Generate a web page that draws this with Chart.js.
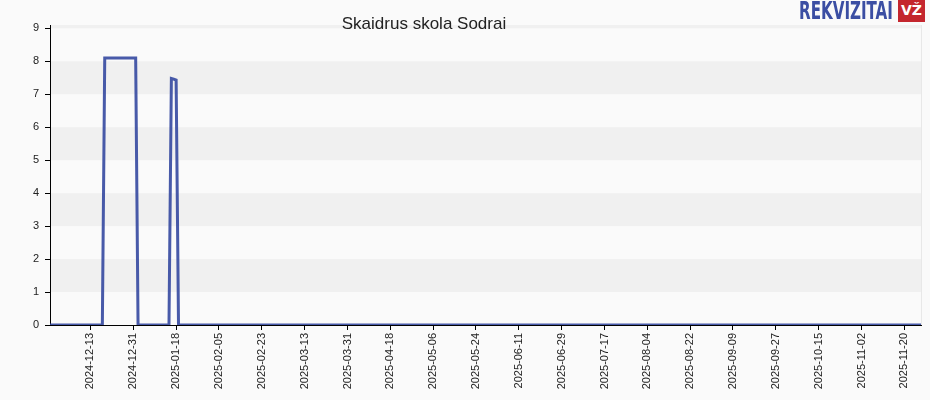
<!DOCTYPE html>
<html>
<head>
<meta charset="utf-8">
<script src="https://cdn.jsdelivr.net/npm/chart.js@4/dist/chart.umd.min.js"></script>
<style>
  html, body { margin: 0; padding: 0; background: #fafafa; }
  #wrap { position: relative; width: 930px; height: 400px; background: #fafafa; }
  #c { position: absolute; left: 0; top: 0; }
  #title { position: absolute; left: 324px; width: 200px; top: 14px; text-align: center;
           font-family: "Liberation Sans", Arial, sans-serif; font-size: 17px; color: #222; white-space: nowrap; }
  #logo { position: absolute; left: 799px; top: -3px; height: 26px; white-space: nowrap; }
  #logo .t { display: inline-block; font-family: "DejaVu Sans Condensed", "DejaVu Sans", sans-serif; font-weight: bold;
             font-size: 24px; color: #3b4ea3; transform: scaleX(0.7); transform-origin: left top; letter-spacing: 0px; }
  #logo .b { position: absolute; left: 99px; top: 3px; width: 27px; height: 22px; background: #c4262e; color: #fff;
             font-family: "DejaVu Sans", sans-serif; font-weight: bold; font-size: 14px; text-align: center; line-height: 21px; }
</style>
</head>
<body>
<div id="wrap">
  <canvas id="c" width="930" height="400"></canvas>
  <div id="title">Skaidrus skola Sodrai</div>
  <div id="logo"><span class="t">REKVIZITAI</span><span class="b">VŽ</span></div>
</div>
<script>
// ---- data ----
const startDate = '2024-11-26';
const endDate = '2025-11-27';
const pointDates = ['2024-11-26','2024-12-18','2024-12-19','2025-01-01','2025-01-02','2025-01-15','2025-01-16','2025-01-17','2025-01-18','2025-01-19','2025-11-27'];
const pointValues = [0, 0, 8.1, 8.1, 0, 0, 7.48, 7.46, 7.43, 0, 0];
const xTickLabels = ['2024-12-13','2024-12-31','2025-01-18','2025-02-05','2025-02-23','2025-03-13','2025-03-31','2025-04-18','2025-05-06','2025-05-24','2025-06-11','2025-06-29','2025-07-17','2025-08-04','2025-08-22','2025-09-09','2025-09-27','2025-10-15','2025-11-02','2025-11-20'];
const yTickValues = [0,1,2,3,4,5,6,7,8,9];
const yMax = 9.1;

const DAY = 86400000;
const t0 = Date.parse(startDate + 'T00:00:00Z');
const dayIdx = d => Math.round((Date.parse(d + 'T00:00:00Z') - t0) / DAY);
const dataPts = pointDates.map((d, i) => ({ x: dayIdx(d), y: pointValues[i] }));
const xTickDays = xTickLabels.map(dayIdx);
const labelByDay = {};
xTickLabels.forEach((l, i) => { labelByDay[xTickDays[i]] = l; });

const bands = {
  id: 'bands',
  beforeDraw(chart) {
    const { ctx, chartArea: a, scales: { y } } = chart;
    ctx.save();
    ctx.fillStyle = '#fafafa';
    ctx.fillRect(a.left, a.top, a.right - a.left, a.bottom - a.top);
    ctx.fillStyle = '#f0f0f0';
    for (let v = 1; v < yMax; v += 2) {
      const top = y.getPixelForValue(Math.min(v + 1, yMax));
      const bot = y.getPixelForValue(v);
      ctx.fillRect(a.left, top, a.right - a.left, bot - top);
    }
    ctx.strokeStyle = '#e8e8e8';
    ctx.lineWidth = 1;
    ctx.beginPath();
    ctx.moveTo(a.right + 0.5, a.top);
    ctx.lineTo(a.right + 0.5, a.bottom);
    ctx.stroke();
    ctx.restore();
  }
};

const font = { family: '"Liberation Sans", Arial, sans-serif', size: 11 };

new Chart(document.getElementById('c'), {
  type: 'line',
  data: {
    datasets: [{
      data: dataPts,
      borderColor: 'rgba(52,72,160,0.9)',
      borderWidth: 3,
      pointRadius: 0,
      tension: 0,
      fill: false
    }]
  },
  options: {
    responsive: false,
    animation: false,
    layout: { padding: { left: 0, right: 9, top: 25, bottom: 0 } },
    plugins: { legend: { display: false }, tooltip: { enabled: false }, title: { display: false } },
    scales: {
      x: {
        type: 'linear',
        min: 0,
        max: dayIdx(endDate),
        afterBuildTicks: s => { s.ticks = xTickDays.map(v => ({ value: v })); },
        afterFit: s => { s.height = 75; },
        ticks: {
          autoSkip: false,
          maxRotation: 90,
          minRotation: 90,
          padding: 3,
          color: '#222',
          font,
          callback: v => labelByDay[v] || ''
        },
        grid: { drawOnChartArea: false, tickLength: 5, color: '#000' },
        border: { color: '#000', width: 1 }
      },
      y: {
        min: 0,
        max: yMax,
        afterBuildTicks: s => { s.ticks = yTickValues.map(v => ({ value: v })); },
        afterFit: s => { s.width = 50; },
        ticks: { color: '#222', font, padding: 6 },
        grid: { drawOnChartArea: false, tickLength: 5, color: '#000' },
        border: { color: '#000', width: 1 }
      }
    }
  },
  plugins: [bands]
});
</script>
</body>
</html>
